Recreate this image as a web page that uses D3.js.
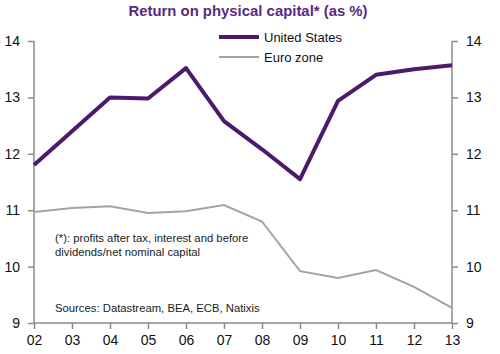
<!DOCTYPE html>
<html>
<head>
<meta charset="utf-8">
<script src="https://cdn.jsdelivr.net/npm/d3@7"></script>
<style>
  body { margin: 0; background: #fff; }
  svg { font-family: "Liberation Sans", Arial, sans-serif; }
</style>
</head>
<body>
<svg id="chart" width="500" height="354"></svg>
<script>
// Years and series values
var years = ["02", "03", "04", "05", "06", "07", "08", "09", "10", "11", "12", "13"];
var usValues = [11.8, 12.4, 13.0, 12.98, 13.52, 12.58, 12.08, 11.55, 12.94, 13.4, 13.5, 13.57];
var euroValues = [10.97, 11.04, 11.07, 10.95, 10.98, 11.09, 10.8, 9.92, 9.8, 9.94, 9.64, 9.27];
var yTicks = [9, 10, 11, 12, 13, 14];

var margin = {top: 41, left: 34, right: 48, bottom: 31};
var width = 500 - margin.left - margin.right;
var height = 354 - margin.top - margin.bottom;

var axisColor = "#8a8a8a";
var usColor = "#4b1a6c";
var euroColor = "#a3a3a3";

var svg = d3.select("#chart");

// Title
svg.append("text")
    .attr("x", 248)
    .attr("y", 16)
    .attr("text-anchor", "middle")
    .attr("font-size", "14.9px")
    .attr("font-weight", "bold")
    .attr("fill", "#5a2a80")
    .text("Return on physical capital* (as %)");

var g = svg.append("g")
    .attr("transform", `translate(${margin.left}, ${margin.top})`);

var x = d3.scalePoint()
    .domain(years)
    .range([0, width]);

var y = d3.scaleLinear()
    .domain([9, 14])
    .range([height, 0]);

var fmt = d3.format("d");

// Left axis
var left = g.append("g")
    .call(d3.axisLeft(y).tickValues(yTicks).tickFormat(fmt).tickSize(6).tickPadding(8));

// Right axis
var right = g.append("g")
    .attr("transform", `translate(${width}, 0)`)
    .call(d3.axisRight(y).tickValues(yTicks).tickFormat(fmt).tickSize(6).tickPadding(8));

// Bottom axis
var bottom = g.append("g")
    .attr("transform", `translate(0, ${height})`)
    .call(d3.axisBottom(x).tickSize(6).tickPadding(6));

[left, right, bottom].forEach(function(ax) {
    ax.select(".domain").attr("stroke", axisColor).attr("stroke-width", 1.5);
    ax.selectAll(".tick line").attr("stroke", axisColor).attr("stroke-width", 1.5);
    ax.selectAll(".tick text")
        .attr("fill", "#111")
        .attr("font-size", "14px")
        .attr("font-family", "\"Liberation Sans\", Arial, sans-serif");
});
// axisLeft/Right draw outer ticks on the domain; remove those end caps
left.select(".domain").attr("d", `M0,0V${height}`);
right.select(".domain").attr("d", `M0,0V${height}`);
bottom.select(".domain").attr("d", `M0,0H${width}`);

// Lines
var line = d3.line()
    .x(function(d, i) { return x(years[i]); })
    .y(function(d) { return y(d); });

g.append("path")
    .datum(euroValues)
    .attr("fill", "none")
    .attr("stroke", euroColor)
    .attr("stroke-width", 2)
    .attr("d", line);

g.append("path")
    .datum(usValues)
    .attr("fill", "none")
    .attr("stroke", usColor)
    .attr("stroke-width", 4)
    .attr("stroke-linejoin", "round")
    .attr("d", line);

// Legend
var legend = [
    {name: "United States", color: usColor, w: 4, y: 37},
    {name: "Euro zone", color: euroColor, w: 2, y: 57}
];

legend.forEach(function(d) {
    svg.append("line")
        .attr("x1", 219).attr("x2", 259)
        .attr("y1", d.y).attr("y2", d.y)
        .attr("stroke", d.color)
        .attr("stroke-width", d.w);
    svg.append("text")
        .attr("x", 264)
        .attr("y", d.y + 5)
        .attr("font-size", "13px")
        .attr("fill", "#111")
        .text(d.name);
});

// Notes
var notes = [
    {text: "(*): profits after tax, interest and before", y: 242},
    {text: "dividends/net nominal capital", y: 256},
    {text: "Sources: Datastream, BEA, ECB, Natixis", y: 312}
];

svg.selectAll(".note")
    .data(notes)
    .join("text")
    .attr("class", "note")
    .attr("x", 55)
    .attr("y", function(d) { return d.y; })
    .attr("font-size", "11.3px")
    .attr("fill", "#222")
    .text(function(d) { return d.text; });
</script>
</body>
</html>
